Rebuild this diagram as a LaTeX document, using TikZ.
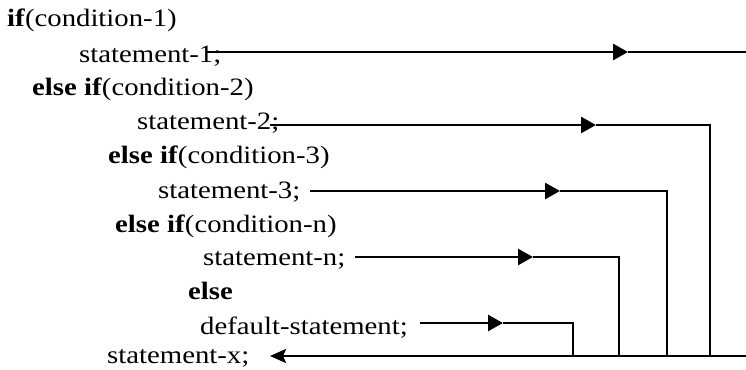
\documentclass[tikz,border=0pt]{standalone}
\usepackage{fontspec}
\setmainfont{Liberation Serif}
\usetikzlibrary{arrows.meta}
% code lines are set in a slightly widened serif
\newcommand{\codeline}[1]{\scalebox{1.15}[1]{#1}}

\begin{document}
\begin{tikzpicture}[x=1pt,y=-1pt,
  code/.style={anchor=base west, inner sep=0pt, font=\fontsize{25}{25}\selectfont},
  flow/.style={line width=2.7pt, -{Triangle[length=15pt,width=16pt]}},
  back/.style={line width=2.8pt, -{Stealth[length=16pt,width=14pt,inset=3pt]}},
  link/.style={line width=2pt}]
\useasboundingbox (0,0) rectangle (746,369);

% the if / else-if ladder
\node[code] (c1) at (7,27)   {\codeline{\textbf{if}(condition-1)}};
\node[code] (s1) at (79,63)  {\codeline{statement-1;}};
\node[code] (c2) at (32,95)  {\codeline{\textbf{else if}(condition-2)}};
\node[code] (s2) at (137,129){\codeline{statement-2;}};
\node[code] (c3) at (108,163){\codeline{\textbf{else if}(condition-3)}};
\node[code] (s3) at (158,198){\codeline{statement-3;}};
\node[code] (cn) at (115,232){\codeline{\textbf{else if}(condition-n)}};
\node[code] (sn) at (203,265){\codeline{statement-n;}};
\node[code] (el) at (188,299){\codeline{\textbf{else}}};
\node[code] (sd) at (200,334){\codeline{default-statement;}};
\node[code] (sx) at (107,363){\codeline{statement-x;}};

% start points, arrow tips and corners of the exit paths
\coordinate (a1) at (207,52);  \coordinate (t1) at (628,52);  \coordinate (e1) at (746,52);
\coordinate (a2) at (270,125); \coordinate (t2) at (596,125); \coordinate (k2) at (710,125); \coordinate (b2) at (710,356);
\coordinate (a3) at (310,191); \coordinate (t3) at (560,191); \coordinate (k3) at (667,191); \coordinate (b3) at (667,356);
\coordinate (an) at (355,257); \coordinate (tn) at (533,257); \coordinate (kn) at (619,257); \coordinate (bn) at (619,356);
\coordinate (ad) at (420,323); \coordinate (td) at (503,323); \coordinate (kd) at (573,323); \coordinate (bd) at (573,356);
\coordinate (r0) at (746,356); \coordinate (tx) at (270,356);

% each branch leaves its statement ...
\draw[flow] (a1) -- (t1);
\draw[link] (t1) -- (e1);
\draw[flow] (a2) -- (t2);
\draw[link] (t2) -- (k2) -- (b2);
\draw[flow] (a3) -- (t3);
\draw[link] (t3) -- (k3) -- (b3);
\draw[flow] (an) -- (tn);
\draw[link] (tn) -- (kn) -- (bn);
\draw[flow] (ad) -- (td);
\draw[link] (td) -- (kd) -- (bd);

% ... and all of them join back at statement-x
\draw[back] (r0) -- (tx);
\end{tikzpicture}
\end{document}
